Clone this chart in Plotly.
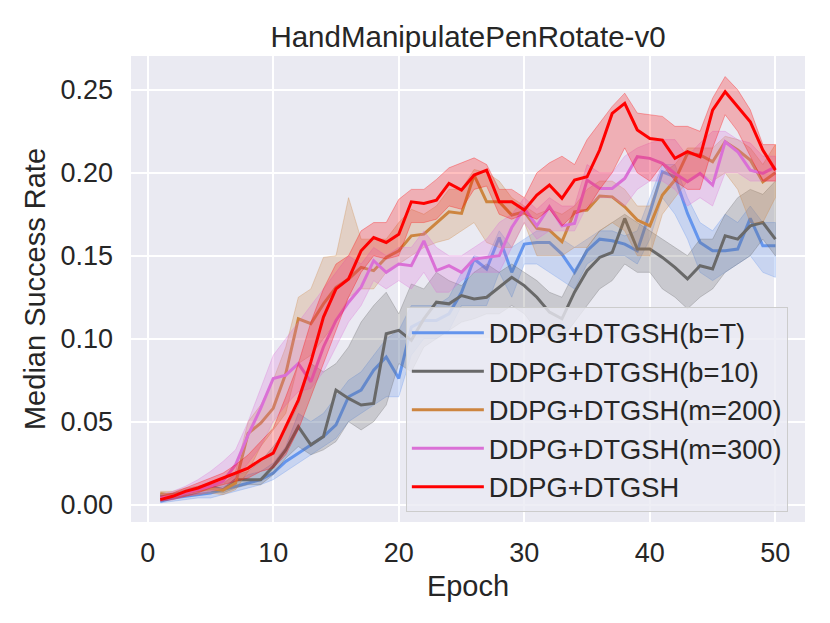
import plotly.graph_objects as go

epochs = list(range(1, 51))

labels = ["DDPG+DTGSH(b=T)", "DDPG+DTGSH(b=10)", "DDPG+DTGSH(m=200)",
          "DDPG+DTGSH(m=300)", "DDPG+DTGSH"]
colors = [(100, 149, 237), (105, 105, 105), (205, 133, 63), (218, 112, 214), (255, 0, 0)]

blue_mid = [0.002, 0.004, 0.005, 0.006, 0.007, 0.009, 0.011, 0.013, 0.015, 0.019,
            0.026, 0.031, 0.036, 0.041, 0.048, 0.065, 0.069, 0.081, 0.089, 0.076,
            0.107, 0.111, 0.111, 0.115, 0.128, 0.148, 0.142, 0.161, 0.140, 0.157,
            0.158, 0.158, 0.151, 0.140, 0.153, 0.160, 0.159, 0.157, 0.153, 0.176,
            0.2006, 0.1976, 0.1755, 0.158, 0.153, 0.153, 0.154, 0.1725, 0.156, 0.156]
blue_lo = [0.001, 0.002, 0.003, 0.004, 0.004, 0.006, 0.008, 0.010, 0.012, 0.015,
           0.020, 0.025, 0.030, 0.035, 0.040, 0.050, 0.055, 0.060, 0.065, 0.065,
           0.090, 0.100, 0.100, 0.105, 0.120, 0.120, 0.120, 0.140, 0.125, 0.145,
           0.145, 0.140, 0.135, 0.130, 0.145, 0.150, 0.150, 0.150, 0.145, 0.160,
           0.185, 0.175, 0.160, 0.140, 0.135, 0.140, 0.145, 0.150, 0.140, 0.137]
blue_hi = [0.004, 0.006, 0.007, 0.008, 0.009, 0.011, 0.013, 0.018, 0.020, 0.025,
           0.035, 0.055, 0.050, 0.055, 0.065, 0.075, 0.080, 0.090, 0.100, 0.105,
           0.120, 0.120, 0.120, 0.125, 0.140, 0.150, 0.148, 0.165, 0.155, 0.160,
           0.165, 0.165, 0.160, 0.155, 0.160, 0.165, 0.165, 0.162, 0.165, 0.185,
           0.205, 0.205, 0.185, 0.170, 0.165, 0.175, 0.170, 0.180, 0.170, 0.170]

gray_mid = [0.005, 0.006, 0.007, 0.009, 0.011, 0.009, 0.015, 0.015, 0.015, 0.023,
            0.033, 0.047, 0.036, 0.041, 0.069, 0.064, 0.060, 0.061, 0.103, 0.105,
            0.099, 0.112, 0.122, 0.121, 0.126, 0.124, 0.125, 0.131, 0.137, 0.132,
            0.125, 0.116, 0.112, 0.128, 0.141, 0.149, 0.152, 0.1725, 0.154, 0.154,
            0.149, 0.143, 0.136, 0.144, 0.142, 0.162, 0.160, 0.168, 0.170, 0.160]
gray_lo = [0.003, 0.004, 0.005, 0.006, 0.008, 0.007, 0.010, 0.012, 0.012, 0.018,
           0.028, 0.035, 0.030, 0.033, 0.038, 0.050, 0.045, 0.050, 0.060, 0.085,
           0.080, 0.095, 0.100, 0.105, 0.110, 0.112, 0.115, 0.115, 0.120, 0.115,
           0.105, 0.100, 0.100, 0.110, 0.120, 0.130, 0.135, 0.145, 0.140, 0.140,
           0.130, 0.125, 0.118, 0.125, 0.130, 0.140, 0.145, 0.150, 0.160, 0.150]
gray_hi = [0.007, 0.007, 0.009, 0.011, 0.013, 0.013, 0.018, 0.020, 0.026, 0.035,
           0.045, 0.060, 0.085, 0.080, 0.085, 0.095, 0.110, 0.120, 0.128, 0.115,
           0.133, 0.130, 0.140, 0.135, 0.132, 0.140, 0.145, 0.140, 0.145, 0.140,
           0.135, 0.128, 0.125, 0.140, 0.155, 0.165, 0.170, 0.175, 0.170, 0.165,
           0.160, 0.155, 0.150, 0.160, 0.160, 0.175, 0.185, 0.190, 0.187, 0.195]

orange_mid = [0.0066, 0.0056, 0.0076, 0.0086, 0.0096, 0.0086, 0.013, 0.043, 0.049, 0.058,
              0.079, 0.112, 0.109, 0.121, 0.131, 0.136, 0.143, 0.141, 0.149, 0.153,
              0.162, 0.163, 0.1695, 0.1765, 0.1755, 0.1986, 0.1825, 0.1825, 0.1745, 0.1765,
              0.1665, 0.1654, 0.1584, 0.1765, 0.1775, 0.186, 0.1855, 0.1795, 0.1715, 0.168,
              0.1866, 0.1956, 0.2117, 0.2107, 0.2067, 0.2187, 0.2137, 0.2077, 0.1946, 0.200]
orange_lo = [0.004, 0.004, 0.005, 0.006, 0.007, 0.006, 0.009, 0.020, 0.035, 0.045,
             0.055, 0.085, 0.090, 0.100, 0.110, 0.125, 0.130, 0.130, 0.140, 0.145,
             0.150, 0.155, 0.158, 0.160, 0.165, 0.170, 0.158, 0.155, 0.155, 0.170,
             0.150, 0.150, 0.150, 0.155, 0.155, 0.165, 0.170, 0.165, 0.150, 0.150,
             0.175, 0.185, 0.195, 0.200, 0.195, 0.200, 0.190, 0.170, 0.170, 0.185]
orange_hi = [0.008, 0.008, 0.010, 0.011, 0.012, 0.012, 0.020, 0.050, 0.060, 0.075,
             0.095, 0.125, 0.130, 0.149, 0.150, 0.185, 0.160, 0.160, 0.160, 0.170,
             0.178, 0.175, 0.180, 0.190, 0.190, 0.202, 0.200, 0.195, 0.185, 0.180,
             0.175, 0.178, 0.175, 0.180, 0.190, 0.195, 0.195, 0.190, 0.180, 0.180,
             0.200, 0.205, 0.215, 0.215, 0.215, 0.222, 0.220, 0.215, 0.205, 0.217]

pink_mid = [0.004, 0.005, 0.007, 0.009, 0.011, 0.014, 0.024, 0.042, 0.058, 0.076,
            0.078, 0.085, 0.074, 0.095, 0.111, 0.122, 0.131, 0.147, 0.140, 0.145,
            0.144, 0.159, 0.141, 0.144, 0.140, 0.148, 0.149, 0.150, 0.167, 0.1785,
            0.168, 0.1795, 0.168, 0.1695, 0.1956, 0.1906, 0.1906, 0.1966, 0.2097, 0.2087,
            0.2057, 0.1996, 0.1946, 0.1996, 0.1926, 0.2187, 0.2127, 0.2016, 0.1996, 0.2036]
pink_lo = [0.003, 0.003, 0.005, 0.006, 0.008, 0.010, 0.015, 0.025, 0.035, 0.050,
           0.060, 0.068, 0.070, 0.080, 0.095, 0.110, 0.120, 0.135, 0.130, 0.135,
           0.130, 0.140, 0.128, 0.128, 0.135, 0.140, 0.140, 0.140, 0.155, 0.170,
           0.160, 0.165, 0.165, 0.165, 0.180, 0.185, 0.185, 0.180, 0.190, 0.195,
           0.195, 0.190, 0.180, 0.185, 0.180, 0.200, 0.200, 0.195, 0.195, 0.195]
pink_hi = [0.006, 0.008, 0.011, 0.015, 0.020, 0.026, 0.033, 0.050, 0.070, 0.090,
           0.100, 0.110, 0.120, 0.130, 0.140, 0.150, 0.145, 0.155, 0.150, 0.155,
           0.155, 0.165, 0.155, 0.150, 0.150, 0.155, 0.160, 0.170, 0.175, 0.185,
           0.178, 0.185, 0.180, 0.180, 0.205, 0.200, 0.200, 0.210, 0.215, 0.218,
           0.220, 0.220, 0.210, 0.218, 0.225, 0.225, 0.220, 0.218, 0.210, 0.210]

red_mid = [0.003, 0.005, 0.008, 0.010, 0.013, 0.016, 0.019, 0.022, 0.027, 0.031,
           0.047, 0.063, 0.086, 0.113, 0.130, 0.136, 0.153, 0.161, 0.158, 0.163,
           0.1825, 0.1815, 0.1835, 0.1936, 0.1896, 0.1986, 0.2016, 0.1825, 0.1825, 0.1775,
           0.1866, 0.1926, 0.1846, 0.1956, 0.1976, 0.2137, 0.2358, 0.2419, 0.2258, 0.2207,
           0.2197, 0.2087, 0.2127, 0.2097, 0.2378, 0.2489, 0.2398, 0.2308, 0.2137, 0.2016]
red_lo = [0.002, 0.003, 0.005, 0.007, 0.010, 0.012, 0.014, 0.016, 0.020, 0.022,
          0.030, 0.045, 0.065, 0.085, 0.105, 0.125, 0.140, 0.150, 0.148, 0.150,
          0.170, 0.170, 0.172, 0.180, 0.178, 0.190, 0.192, 0.175, 0.172, 0.175,
          0.172, 0.178, 0.168, 0.175, 0.178, 0.190, 0.200, 0.215, 0.200, 0.195,
          0.205, 0.195, 0.190, 0.190, 0.215, 0.235, 0.225, 0.210, 0.195, 0.195]
red_hi = [0.005, 0.007, 0.010, 0.013, 0.016, 0.019, 0.024, 0.030, 0.038, 0.046,
          0.065, 0.085, 0.110, 0.130, 0.145, 0.150, 0.165, 0.170, 0.170, 0.184,
          0.190, 0.190, 0.196, 0.203, 0.206, 0.209, 0.205, 0.190, 0.190, 0.185,
          0.200, 0.206, 0.210, 0.205, 0.220, 0.230, 0.240, 0.248, 0.236, 0.235,
          0.234, 0.228, 0.228, 0.225, 0.245, 0.258, 0.250, 0.238, 0.217, 0.217]

series = [
    (blue_mid, blue_lo, blue_hi),
    (gray_mid, gray_lo, gray_hi),
    (orange_mid, orange_lo, orange_hi),
    (pink_mid, pink_lo, pink_hi),
    (red_mid, red_lo, red_hi),
]

FONT = "Liberation Sans, Arial, sans-serif"
TXT = "#262626"
W, H = 822, 615  # page body adds an 8px offset

fig = go.Figure()
for i, ((mid, lo, hi), name, c) in enumerate(zip(series, labels, colors)):
    r, g, b = c
    fig.add_trace(go.Scatter(
        x=epochs + epochs[::-1], y=hi + lo[::-1], fill="toself",
        fillcolor=f"rgba({r},{g},{b},0.25)",
        line=dict(color=f"rgba({r},{g},{b},0.3)", width=1),
        mode="lines", hoverinfo="skip", showlegend=False, legendgroup=f"g{i}"))
    fig.add_trace(go.Scatter(
        x=epochs, y=mid, mode="lines", name=name, legendgroup=f"g{i}",
        line=dict(color=f"rgb({r},{g},{b})", width=3)))

fig.update_layout(
    width=W, height=H,
    margin=dict(l=123, r=25, t=48, b=101, pad=0, autoexpand=False),
    paper_bgcolor="white", plot_bgcolor="#EAEAF2",
    font=dict(family=FONT, color=TXT, size=27),
    title=dict(text="HandManipulatePenRotate-v0", x=0.5, xref="paper",
               y=1 - 29 / H, yref="container", yanchor="middle", xanchor="center",
               font=dict(size=29.5, color=TXT, family=FONT)),
    showlegend=True,
    legend=dict(x=0.4078, y=0.4604, xanchor="left", yanchor="top",
                bgcolor="rgba(234,234,242,0.8)", bordercolor="#CCCCCC", borderwidth=1,
                font=dict(size=27.3, color=TXT, family=FONT),
                tracegroupgap=0, itemwidth=72),
)
fig.update_xaxes(range=[-1.33, 52.36], tickvals=[0, 10, 20, 30, 40, 50],
                 showgrid=True, gridcolor="white", gridwidth=1.5, zeroline=False,
                 showline=False, ticks="", ticklabelstandoff=12, automargin=False,
                 tickfont=dict(size=27, color=TXT),
                 title=dict(text="Epoch", font=dict(size=29, color=TXT), standoff=8))
fig.update_yaxes(range=[-0.0105, 0.2704], tickvals=[0, 0.05, 0.10, 0.15, 0.20, 0.25],
                 tickformat=".2f",
                 showgrid=True, gridcolor="white", gridwidth=1.5, zeroline=False,
                 showline=False, ticks="", ticklabelstandoff=17, automargin=False,
                 tickfont=dict(size=27, color=TXT),
                 title=dict(text="Median Success Rate", font=dict(size=29, color=TXT), standoff=6))

fig.write_html("out.html")
